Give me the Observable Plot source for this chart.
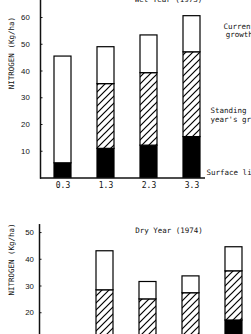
<!DOCTYPE html>
<html><head><meta charset="utf-8">
<script src="https://cdn.jsdelivr.net/npm/d3@7"></script>
<script src="https://cdn.jsdelivr.net/npm/@observablehq/plot@0.6"></script>
<style>
html,body{margin:0;padding:0;background:#fff;overflow:hidden;}
#wrap{position:relative;width:251px;height:334px;overflow:hidden;background:#fff;}
#wet,#dry{position:absolute;left:0;}
#wet{top:0px;}
#dry{top:210px;}
</style></head><body>
<svg width="0" height="0" style="position:absolute"><defs>
<pattern id="hatch" patternUnits="userSpaceOnUse" width="7" height="7">
<rect width="7" height="7" fill="white"/>
<path d="M-1,1 L1,-1 M0,7 L7,0 M6,8 L8,6" stroke="black" stroke-width="1.2"/>
</pattern></defs></svg>
<div id="wrap"><div id="wet"></div><div id="dry"></div></div>
<script>
// ---- data ----
const categories = ["0.3", "1.3", "2.3", "3.3"];
const wetTitle = "Wet Year (1973)";
const dryTitle = "Dry Year (1974)";
const yLabel = "NITROGEN (Kg/ha)";
const wetTicks = [10, 20, 30, 40, 50, 60];
const dryTicks = [10, 20, 30, 40, 50];
// component amounts (Kg/ha), stacked bottom to top
const wetLitter   = [5.5, 10.9, 12.1, 15.3];
const wetStanding = [0, 24.2, 27.1, 31.7];
const wetCurrent  = [39.9, 13.8, 14.1, 13.5];
const dryLitter   = [8, 7, 8, 17.1];
const dryStanding = [20.4, 18.0, 19.3, 18.4];
const dryCurrent  = [14.6, 6.5, 6.3, 9.0];
const labelCurrent = "Current\ngrowth";
const labelStanding = "Standing previous\nyear's growth";
const labelLitter = "Surface litter";

const mono = "'DejaVu Sans Mono', 'Liberation Mono', monospace";
const narrow = "'Liberation Sans Narrow', 'Liberation Sans', sans-serif";

function segments(cats, litter, standing, current) {
  const rows = [];
  cats.forEach((c, i) => {
    const a = litter[i], b = a + standing[i], t = b + current[i];
    rows.push({cat: c, kind: "litter", y1: 0, y2: a});
    if (standing[i] > 0) rows.push({cat: c, kind: "standing", y1: a, y2: b});
    rows.push({cat: c, kind: "current", y1: b, y2: t});
  });
  return rows;
}
const fills = {litter: "black", standing: "url(#hatch)", current: "white"};
function bars(rows) {
  return ["litter", "standing", "current"].map(k =>
    Plot.barY(rows.filter(r => r.kind === k), {
      x: "cat", y1: "y1", y2: "y2", fill: fills[k], stroke: "black", strokeWidth: 1.2
    }));
}

const wetRows = segments(categories, wetLitter, wetStanding, wetCurrent);
const dryRows = segments(categories, dryLitter, dryStanding, dryCurrent);

const wet = Plot.plot({
  width: 251, height: 200,
  marginTop: 0, marginBottom: 22.5, marginLeft: 40, marginRight: 46,
  style: {background: "white", fontFamily: mono, fontSize: "7.5px", color: "#111", overflow: "visible"},
  x: {domain: categories, range: [40.85, 214.05], paddingInner: 0.6, paddingOuter: 0.3},
  y: {domain: [0, 66.36]},
  marks: [
    ...bars(wetRows),
    Plot.ruleY([0], {strokeWidth: 1.3}),
    Plot.frame({anchor: "left", strokeWidth: 1.5}),
    Plot.axisY(wetTicks, {anchor: "left", tickSize: -2.5, tickPadding: 13.2, fontFamily: narrow, fontSize: 7.8, label: null}),
    Plot.axisX({tickSize: 0, tickPadding: 4, label: null, fontSize: 8}),
    Plot.text([wetTitle], {frameAnchor: "top", dx: 45.5, dy: -1, lineAnchor: "middle"}),
    Plot.text([yLabel], {frameAnchor: "left", dx: -28.5, rotate: -90, lineAnchor: "middle"}),
    Plot.text([labelCurrent], {y: [55.2], frameAnchor: "left", dx: 198.75, textAnchor: "middle", lineAnchor: "middle", lineHeight: 1.1}),
    Plot.text([labelStanding], {y: [23.55], frameAnchor: "left", dx: 170, textAnchor: "start", lineAnchor: "middle", lineHeight: 1.2}),
    Plot.text([labelLitter], {y: [2.17], frameAnchor: "left", dx: 166, textAnchor: "start", lineAnchor: "middle"})
  ]
});
document.getElementById("wet").appendChild(wet);

const dry = Plot.plot({
  width: 251, height: 175.7,
  marginTop: 14.3, marginBottom: 20, marginLeft: 39, marginRight: 0,
  style: {background: "white", fontFamily: mono, fontSize: "7.5px", color: "#111", overflow: "visible"},
  x: {domain: categories, range: [82.2, 256.9], paddingInner: 0.6, paddingOuter: 0.3, axis: null},
  y: {domain: [0, 52.9]},
  marks: [
    ...bars(dryRows),
    Plot.ruleY([0], {strokeWidth: 1.3}),
    Plot.frame({anchor: "left", strokeWidth: 1.5}),
    Plot.axisY(dryTicks, {anchor: "left", tickSize: -2.5, tickPadding: 8.2, fontFamily: narrow, fontSize: 7.8, label: null}),
    Plot.text([dryTitle], {frameAnchor: "top", dx: 23.5, dy: 5.7, lineAnchor: "middle"}),
    Plot.text([yLabel], {frameAnchor: "left", dx: -27.5, rotate: -90, lineAnchor: "middle"})
  ]
});
document.getElementById("dry").appendChild(dry);
</script>
</body></html>
